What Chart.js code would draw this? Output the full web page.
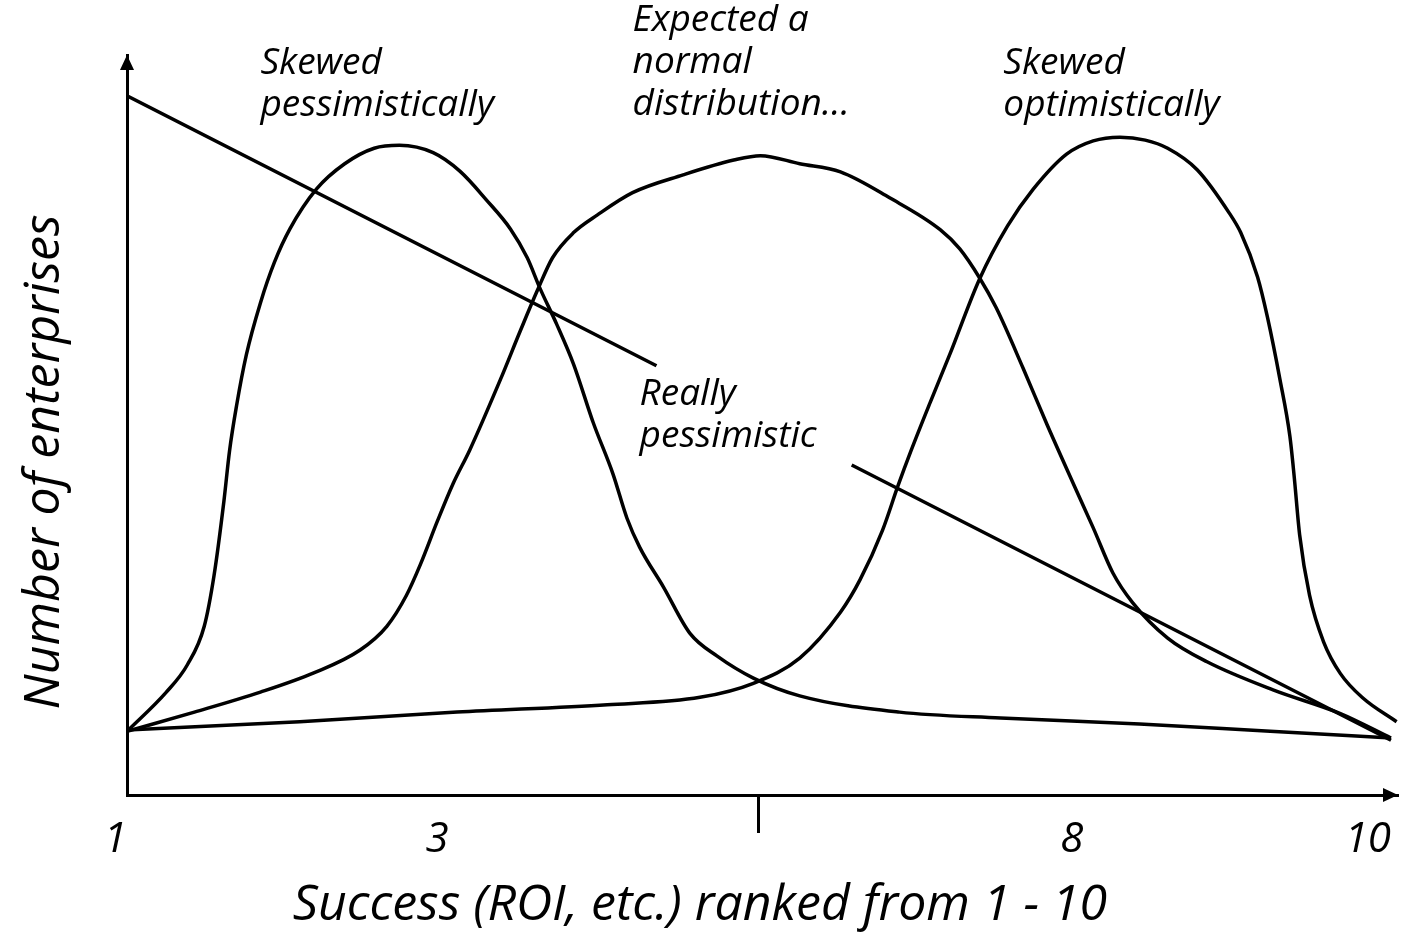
<!DOCTYPE html>
<html>
<head>
<meta charset="utf-8">
<title>Success ranked from 1 - 10</title>
<script src="https://cdn.jsdelivr.net/npm/chart.js@4.4.1/dist/chart.umd.min.js"></script>
<style>
  html, body { margin: 0; padding: 0; background: #fff; }
  #wrap { width: 1403px; height: 933px; }
</style>
</head>
<body>
<div id="wrap"><canvas id="roiChart" width="1403" height="933"></canvas></div>
<script>
// ===== Data =====
// x = success rank (1..10), y = relative number of enterprises (0..100)
const pessX = [1.00, 1.28, 1.43, 1.55, 1.62, 1.69, 1.73, 1.78, 1.85, 1.95, 2.05, 2.16, 2.35, 2.55, 2.76, 2.94, 3.18, 3.37, 3.56, 3.73, 3.85, 3.94, 4.06, 4.18, 4.32, 4.46, 4.56, 4.65, 4.82, 5.01, 5.20, 5.46, 5.79, 6.50, 7.22, 8.21, 9.14, 10.00];
const pessY = [8.6, 13.9, 17.6, 22.8, 29.7, 39.7, 46.5, 52.6, 59.5, 66.5, 72.0, 76.5, 81.9, 85.3, 87.4, 87.8, 86.8, 84.3, 80.4, 76.5, 72.6, 68.5, 63.6, 58.2, 50.3, 43.4, 37.4, 33.5, 28.1, 21.8, 18.8, 15.8, 13.4, 11.2, 10.4, 9.6, 8.6, 7.7];

const normX = [1.00, 1.48, 1.95, 2.33, 2.66, 2.85, 2.99, 3.09, 3.21, 3.32, 3.44, 3.66, 3.80, 3.92, 4.03, 4.18, 4.35, 4.60, 4.96, 5.32, 5.51, 5.79, 6.08, 6.43, 6.79, 6.93, 7.07, 7.19, 7.38, 7.55, 7.74, 7.88, 8.02, 8.16, 8.41, 8.69, 9.16, 9.64, 10.00];
const normY = [8.6, 11.2, 13.9, 16.5, 19.6, 22.8, 27.0, 31.2, 37.0, 42.0, 46.6, 56.2, 62.7, 68.1, 72.6, 76.0, 78.4, 81.4, 83.8, 85.8, 86.4, 85.3, 84.2, 80.7, 76.4, 73.8, 69.9, 65.8, 57.7, 50.1, 42.0, 36.1, 30.0, 26.0, 21.2, 18.0, 14.2, 11.0, 7.7];

const optX = [1.00, 2.23, 3.35, 4.42, 5.08, 5.46, 5.79, 6.08, 6.22, 6.38, 6.49, 6.58, 6.72, 6.86, 7.07, 7.27, 7.45, 7.69, 7.88, 8.07, 8.25, 8.41, 8.62, 8.85, 8.93, 9.05, 9.12, 9.21, 9.28, 9.31, 9.35, 9.42, 9.52, 9.64, 9.80, 10.04];
const optY = [8.8, 9.9, 11.2, 12.2, 13.2, 15.1, 18.5, 24.7, 29.1, 35.8, 41.8, 46.4, 53.1, 59.6, 69.7, 76.9, 81.8, 86.6, 88.4, 88.9, 88.5, 87.4, 84.5, 78.6, 76.0, 70.0, 64.6, 56.1, 48.5, 43.2, 35.1, 27.0, 20.7, 16.4, 13.1, 9.9];

// straight "really pessimistic" line, broken where its label sits
const lineX = [1.00, 4.77, 5.46, 6.16, 10.00];
const lineY = [94.5, 58.0, null, 44.6, 7.4];

// tick labels along the x axis (right edge of each label sits on its value)
const xTickPos    = [1, 3.29, 7.81, 10];
const xTickLabels = ['1', '3', '8', '10'];
const midTick     = 5.49; // unlabelled tick mark

const noteText = [
  ['Skewed', 'pessimistically'],
  ['Expected a', 'normal', 'distribution…'],
  ['Skewed', 'optimistically'],
  ['Really', 'pessimistic']
];
const xTitle = 'Success (ROI, etc.) ranked from 1 - 10';
const yTitle = 'Number of enterprises';

// ===== Helpers =====
const FONT = '"Open Sans", "DejaVu Sans", sans-serif';
const toPoints = (xs, ys) => xs.map((v, i) => ({ x: v, y: ys[i] }));

function curve(label, xs, ys, extra = {}) {
  return Object.assign({
    label,
    data: toPoints(xs, ys),
    borderColor: '#000',
    borderWidth: 3.5,
    pointRadius: 0,
    fill: false,
    cubicInterpolationMode: 'monotone',
    spanGaps: false
  }, extra);
}

// arrowheads, the middle tick, the notes and both axis titles
const sketchDecor = {
  id: 'sketchDecor',
  afterDraw(chart, args, opts) {
    const { ctx, chartArea: a, scales: { x, y } } = chart;
    ctx.save();
    ctx.fillStyle = '#000';
    ctx.strokeStyle = '#000';

    // arrowheads
    ctx.beginPath();
    ctx.moveTo(a.left, a.top);
    ctx.lineTo(a.left - 7, a.top + 15);
    ctx.lineTo(a.left + 7, a.top + 15);
    ctx.closePath();
    ctx.fill();

    ctx.beginPath();
    ctx.moveTo(a.right, a.bottom);
    ctx.lineTo(a.right - 15, a.bottom - 7);
    ctx.lineTo(a.right - 15, a.bottom + 7);
    ctx.closePath();
    ctx.fill();

    // middle tick
    const mx = Math.round(x.getPixelForValue(midTick)) + 0.5;
    ctx.lineWidth = 3;
    ctx.beginPath();
    ctx.moveTo(mx, a.bottom);
    ctx.lineTo(mx, a.bottom + 38);
    ctx.stroke();

    // curve notes
    ctx.font = `italic ${opts.noteSize}px ${FONT}`;
    ctx.textAlign = 'left';
    ctx.textBaseline = 'middle';
    noteText.forEach((lines, i) => {
      const [vx, vy] = opts.noteAt[i];
      const px = x.getPixelForValue(vx);
      const py = y.getPixelForValue(vy);
      lines.forEach((t, j) => ctx.fillText(t, px, py + j * opts.noteLead));
    });

    // axis titles
    ctx.font = `italic ${opts.titleSize}px ${FONT}`;
    ctx.textAlign = 'center';
    ctx.fillText(xTitle, opts.xTitleAt[0], opts.xTitleAt[1]);

    ctx.translate(opts.yTitleAt[0], opts.yTitleAt[1]);
    ctx.rotate(-Math.PI / 2);
    ctx.fillText(yTitle, 0, 0);
    ctx.restore();
  }
};

// ===== Chart =====
const ctx = document.getElementById('roiChart').getContext('2d');
new Chart(ctx, {
  type: 'line',
  data: {
    datasets: [
      curve('Skewed pessimistically', pessX, pessY),
      curve('Normal distribution', normX, normY),
      curve('Skewed optimistically', optX, optY),
      curve('Really pessimistic', lineX, lineY, { tension: 0, cubicInterpolationMode: 'default' })
    ]
  },
  options: {
    responsive: false,
    animation: false,
    layout: { padding: { left: 0, top: 55, right: 5, bottom: 0 } },
    plugins: {
      legend: { display: false },
      tooltip: { enabled: false },
      sketchDecor: {
        noteSize: 37,
        noteLead: 42,
        noteAt: [[1.95, 98.9], [4.60, 104.7], [7.24, 98.9], [4.65, 54.1]],
        titleSize: 50,
        xTitleAt: [700, 906],
        yTitleAt: [45, 462]
      }
    },
    scales: {
      x: {
        type: 'linear',
        min: 1,
        max: 10.05,
        grid: { display: false },
        border: { display: true, color: '#000', width: 3 },
        afterBuildTicks: s => { s.ticks = xTickPos.map(v => ({ value: v })); },
        afterFit: s => { s.height = 138; s.paddingLeft = 0; s.paddingRight = 0; },
        ticks: {
          autoSkip: false,
          maxRotation: 0,
          align: 'end',
          padding: 12,
          color: '#000',
          font: { family: FONT, size: 42, style: 'italic' },
          callback: (v, i) => xTickLabels[i]
        }
      },
      y: {
        type: 'linear',
        min: 0,
        max: 100,
        grid: { display: false },
        border: { display: true, color: '#000', width: 3 },
        ticks: { display: false },
        afterFit: s => { s.width = 127; }
      }
    }
  },
  plugins: [sketchDecor]
});
</script>
</body>
</html>
